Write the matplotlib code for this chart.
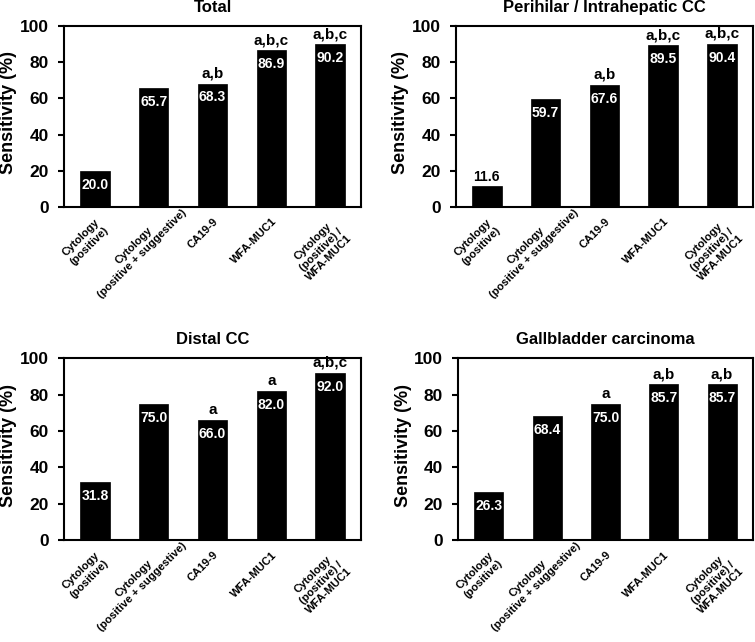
import matplotlib
matplotlib.use('Agg')
import matplotlib.pyplot as plt

# categories and values
methods = ['Cytology\n(positive)', 'Cytology\n(positive + suggestive)', 'CA19-9',
           'WFA-MUC1', 'Cytology\n(positive) /\nWFA-MUC1']

titles = ['Total', 'Perihilar / Intrahepatic CC', 'Distal CC', 'Gallbladder carcinoma']

total = [20.0, 65.7, 68.3, 86.9, 90.2]
perihilar = [11.6, 59.7, 67.6, 89.5, 90.4]
distal = [31.8, 75.0, 66.0, 82.0, 92.0]
gallbladder = [26.3, 68.4, 75.0, 85.7, 85.7]

total_sig = ['', '', 'a,b', 'a,b,c', 'a,b,c']
perihilar_sig = ['', '', 'a,b', 'a,b,c', 'a,b,c']
distal_sig = ['', '', 'a', 'a', 'a,b,c']
gallbladder_sig = ['', '', 'a', 'a,b', 'a,b']

yticks = [0, 20, 40, 60, 80, 100]

plt.rcParams['font.family'] = ['Liberation Sans', 'DejaVu Sans']
plt.rcParams['font.weight'] = 'bold'

fig = plt.figure(figsize=(7.55, 6.42), dpi=100)

# axes boxes (left, bottom, width, height) in figure fraction
boxes = [
    [0.085, 0.678, 0.393, 0.281],
    [0.604, 0.678, 0.393, 0.281],
    [0.085, 0.159, 0.393, 0.283],
    [0.607, 0.159, 0.390, 0.283],
]

panels = [(total, total_sig), (perihilar, perihilar_sig),
          (distal, distal_sig), (gallbladder, gallbladder_sig)]

# offset (points) of the rotated category labels from the tick;
# the long second label sits further up/right in the original
label_off = [(0, -7), (14, 5.5), (0, -7), (0, -7), (0, -7)]

for box, title, (vals, sig) in zip(boxes, titles, panels):
    ax = fig.add_axes(box)
    x = list(range(len(vals)))
    ax.bar(x, vals, width=0.5, color='black', edgecolor='black', linewidth=0.5)

    for xi, v, s in zip(x, vals, sig):
        if v < 15:
            ax.annotate(f'{v:.1f}', (xi, v), xytext=(0, 1), textcoords='offset points',
                        ha='center', va='bottom', fontsize=10, fontweight='bold', color='black')
        else:
            ax.annotate(f'{v:.1f}', (xi, v), xytext=(0, -5), textcoords='offset points',
                        ha='center', va='top', fontsize=10, fontweight='bold', color='white')
        if s:
            ax.annotate(s, (xi, v), xytext=(0, 2), textcoords='offset points',
                        ha='center', va='bottom', fontsize=11, fontweight='bold', color='black')

    ax.set_xlim(-0.525, 4.525)
    ax.set_ylim(0, 100)
    ax.set_yticks(yticks)
    ax.set_yticklabels([str(t) for t in yticks], fontsize=12.5, fontweight='bold')
    ax.set_ylabel('Sensitivity (%)', fontsize=13, fontweight='bold')
    ax.yaxis.set_label_coords(-0.158, 0.52)
    ax.set_title(title, fontsize=12, fontweight='bold', pad=10)

    ax.set_xticks(x)
    ax.set_xticklabels([])
    for xi, name, off in zip(x, methods, label_off):
        ax.annotate(name, (xi, 0), xytext=off, textcoords='offset points',
                    rotation=45, rotation_mode='anchor', ha='right', va='top',
                    multialignment='center', fontsize=8, fontweight='bold',
                    annotation_clip=False)

    ax.tick_params(axis='x', length=0)
    ax.tick_params(axis='y', length=4, width=1.5, direction='out', pad=7)
    for sp in ax.spines.values():
        sp.set_linewidth(1.5)

plt.savefig('out.png', dpi=100)
